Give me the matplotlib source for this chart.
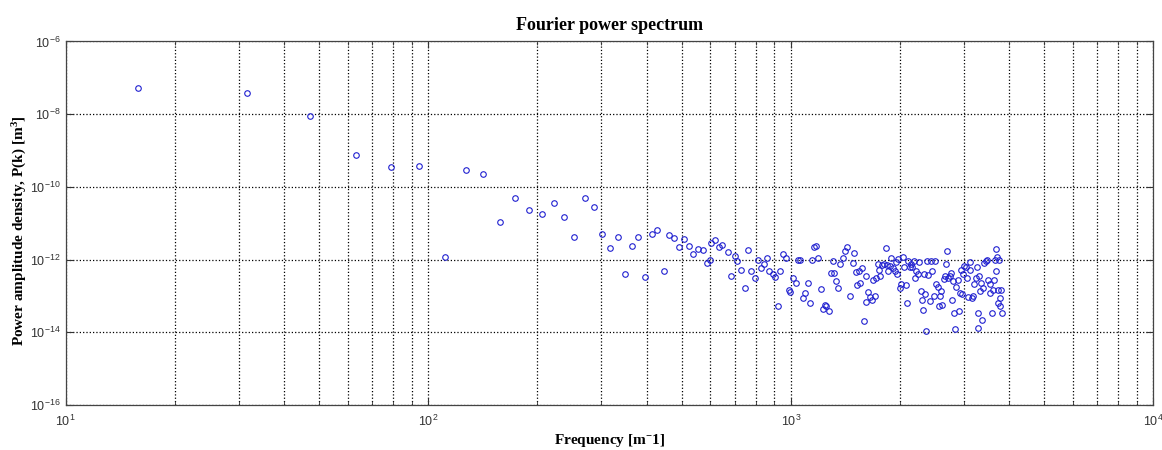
import numpy as np
import matplotlib
matplotlib.use("Agg")
import matplotlib.pyplot as plt
from matplotlib.ticker import LogLocator, LogFormatterSciNotation, NullLocator

# values (frequency in 1/m, power in m^3)
freq = [
    15.8, 31.6, 47.3, 63.4, 79, 94.6, 111, 127, 142, 158, 174, 190, 206,
    222, 237, 253, 270, 286, 301, 318, 333, 349, 365, 380, 397,
    414, 427, 446, 461, 477, 491, 508, 524, 539, 556, 571, 589, 597, 601,
    619, 634, 648, 669, 684, 700, 711, 729, 748, 763, 778, 795, 810, 826,
    841, 858, 871,
    893, 905, 920, 936, 952, 968, 986, 997, 1014, 1031, 1044, 1062, 1081,
    1096, 1115, 1127, 1146, 1161, 1174, 1189, 1208, 1224, 1240, 1253, 1271,
    1288, 1308, 1318, 1335, 1350, 1370, 1393, 1411, 1432, 1453, 1481, 1490,
    1510, 1523, 1542, 1555, 1572, 1588, 1608, 1616, 1633, 1657, 1671, 1686,
    1703, 1721, 1736, 1751, 1766, 1785, 1803, 1826, 1843, 1858, 1873, 1893,
    1914, 1933, 1946, 1963, 1980, 1996, 2014, 2034, 2056, 2073, 2092, 2109,
    2127, 2146, 2163, 2181, 2201, 2219, 2237, 2257, 2286, 2301, 2315, 2324,
    2350, 2360, 2375, 2395, 2415, 2436, 2456, 2476, 2498, 2519, 2540, 2563,
    2584, 2600, 2617, 2639, 2662, 2684, 2697, 2719, 2742, 2766, 2777, 2802,
    2812, 2837, 2861, 2885, 2910, 2921, 2947, 2966, 2985, 3009, 3035, 3062,
    3087, 3113, 3127, 3153, 3181, 3207, 3234, 3263, 3275, 3290, 3305, 3332,
    3347, 3375, 3390, 3418, 3446, 3477, 3506, 3535, 3550, 3579, 3602, 3625,
    3658, 3672, 3688, 3705, 3719, 3735, 3752, 3766, 3783, 3800, 3824,
]
power = [
    5.3e-8, 3.8e-8, 8.8e-9, 7.6e-10, 3.6e-10, 3.8e-10, 1.2e-12, 3.0e-10,
    2.3e-10, 1.09e-11, 5.0e-11, 2.3e-11, 1.84e-11,
    3.7e-11, 1.46e-11, 4.3e-12, 5.0e-11, 2.75e-11, 5.2e-12, 2.1e-12,
    4.1e-12, 4.0e-13, 2.4e-12, 4.3e-12, 3.3e-13,
    5.0e-12, 6.4e-12, 4.9e-13, 4.7e-12, 4.0e-12, 2.2e-12, 3.8e-12, 2.4e-12,
    1.46e-12, 1.96e-12, 1.88e-12, 8.1e-13, 1.0e-12, 2.9e-12, 3.55e-12,
    2.2e-12, 2.5e-12, 1.6e-12, 3.5e-13, 1.26e-12, 9.1e-13, 5.3e-13,
    1.63e-13, 1.88e-12, 4.9e-13, 3.06e-13, 1.0e-12, 5.9e-13, 7.8e-13,
    1.1e-12, 4.9e-13,
    4.1e-13, 3.3e-13, 5.4e-14, 4.9e-13, 1.4e-12, 1.13e-12, 1.43e-13,
    1.29e-13, 3.2e-13, 2.3e-13, 1.0e-12, 9.6e-13, 9.0e-14, 1.2e-13,
    2.3e-13, 6.4e-14, 1.0e-12, 2.2e-12, 2.4e-12, 1.1e-12, 1.6e-13, 4.5e-14,
    5.8e-14, 5.2e-14, 3.8e-14, 4.4e-13, 9.0e-13, 4.3e-13, 2.6e-13, 1.7e-13,
    7.4e-13, 1.13e-12, 1.69e-12, 2.2e-12, 1.0e-13, 8.3e-13, 1.56e-12,
    4.7e-13, 2.0e-13, 4.9e-13, 2.2e-13, 5.7e-13, 2.0e-14, 6.8e-14, 3.5e-13,
    1.29e-13, 9.4e-14, 7.9e-14, 2.8e-13, 1.0e-13, 3.2e-13, 7.8e-13, 5.1e-13,
    3.5e-13, 7.3e-13, 7.8e-13, 2.1e-12, 7.0e-13, 4.9e-13, 6.8e-13, 1.13e-12,
    5.7e-13, 4.9e-13, 8.6e-13, 3.9e-13, 1.06e-12, 1.7e-13, 2.1e-13, 1.2e-12,
    6.3e-13, 2.0e-13, 6.4e-14, 9.2e-13, 6.3e-13, 7.4e-13, 6.3e-13, 9.2e-13,
    3.2e-13, 4.9e-13, 3.9e-13, 8.6e-13, 1.4e-13, 7.9e-14, 4.0e-14, 3.9e-13,
    1.1e-13, 1.1e-14, 9.2e-13, 3.7e-13, 7.3e-14, 9.2e-13, 4.9e-13, 9.8e-14,
    9.2e-13, 2.1e-13, 1.8e-13, 5.2e-14, 9.8e-14, 1.4e-13, 5.5e-14, 3.0e-13,
    3.5e-13, 7.4e-13, 1.7e-12, 3.2e-13, 3.5e-13, 4.3e-13, 7.9e-14, 2.6e-13,
    3.3e-14, 1.2e-14, 1.8e-13, 2.7e-13, 3.9e-14, 1.2e-13, 5.3e-13, 1.1e-13,
    3.9e-13, 6.5e-13, 6.3e-13, 3.2e-13, 9.4e-14, 5.1e-13, 8.6e-13, 9.0e-14,
    9.8e-14, 2.1e-13, 3.2e-13, 6.3e-13, 3.4e-14, 1.35e-14, 3.5e-13, 1.4e-13,
    2.3e-13, 2.2e-14, 1.7e-13, 8.1e-13, 9.2e-13, 1.0e-12, 2.7e-13, 1.2e-13,
    2.1e-13, 3.4e-14, 1.43e-13, 2.7e-13, 1.0e-12, 4.9e-13, 1.9e-12, 1.2e-12,
    6.2e-14, 1.5e-13, 1.0e-12, 9.0e-14, 5.2e-14, 1.5e-13, 3.3e-14,
]

x_limits = [1e1, 1e4]
y_limits = [1e-16, 1e-6]
y_ticks = [1e-16, 1e-14, 1e-12, 1e-10, 1e-8, 1e-6]

plt.rcParams['font.family'] = ['Liberation Sans', 'DejaVu Sans']
plt.rcParams['mathtext.default'] = 'regular'

fig = plt.figure(figsize=(11.62, 4.5), dpi=100)
ax = fig.add_axes([0.0565, 0.1, 0.9361, 0.8078])

ax.plot(freq, power, linestyle='none', marker='o', markersize=4,
        markerfacecolor='none', markeredgecolor='#2020d0', markeredgewidth=0.8)

ax.set_xscale('log')
ax.set_yscale('log')
ax.set_xlim(x_limits)
ax.set_ylim(y_limits)

ax.xaxis.set_major_locator(LogLocator(base=10))
ax.xaxis.set_minor_locator(LogLocator(base=10, subs=np.arange(2, 10)))
ax.xaxis.set_major_formatter(LogFormatterSciNotation())
ax.set_yticks(y_ticks)
ax.yaxis.set_minor_locator(NullLocator())
ax.yaxis.set_major_formatter(LogFormatterSciNotation())

ax.tick_params(which='both', direction='in', top=True, right=True,
               colors='#333333', labelsize=9)
ax.tick_params(which='major', length=5)
ax.tick_params(which='minor', length=3)
ax.tick_params(axis='x', pad=6)

ax.grid(True, which='major', axis='both', linestyle=':', color='black', linewidth=0.9)
ax.grid(True, which='minor', axis='x', linestyle=':', color='black', linewidth=0.9)
for s in ax.spines.values():
    s.set_color('#444444')
    s.set_linewidth(0.9)

serif = ['Liberation Serif', 'DejaVu Serif']
ax.set_title('Fourier power spectrum', family=serif, fontweight='bold',
             fontsize=13, pad=8)
ax.set_xlabel('Frequency [m$^{-}$1]', family=serif, fontweight='bold',
              fontsize=11)
ax.set_ylabel('Power amplitude density, P(k) [m$^{3}$]', family=serif,
              fontweight='bold', fontsize=11)
ax.xaxis.set_label_coords(0.5, -0.075)
ax.yaxis.set_label_coords(-0.034, 0.48)

fig.savefig('out.png', dpi=100)
